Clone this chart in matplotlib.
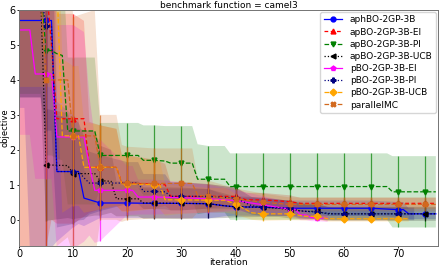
import numpy as np
import matplotlib.pyplot as plt

# aphBO-2GP-3B
aph_x = [0, 1, 2, 5, 6, 7, 10, 11, 12, 15, 20, 25, 30, 35, 38, 40, 45, 50, 55, 60, 65, 70, 71, 72, 75, 77]
aph_mean = [5.7, 5.7, 5.7, 5.7, 5.7, 1.38, 1.38, 1.38, 0.62, 0.48, 0.48, 0.47, 0.47, 0.46, 0.40, 0.37,
            0.36, 0.33, 0.33, 0.33, 0.33, 0.29, 0.29, 0.17, 0.17, 0.17]
aph_std = [2.5, 2.5, 6.5, 6.5, 6.5, 2.0, 1.6, 1.5, 0.8, 0.43, 0.43, 0.42, 0.42, 0.42, 0.3, 0.25, 0.25,
           0.22, 0.22, 0.22, 0.22, 0.22, 0.22, 0.15, 0.15, 0.15]

# apBO-2GP-3B-EI
apei_x = [0, 5, 6, 7, 10, 12, 13, 15, 18, 19, 20, 25, 27, 28, 30, 35, 40, 42, 45, 50, 52, 55, 60, 65, 70, 75, 77]
apei_mean = [6.8, 6.8, 5.0, 2.89, 2.89, 2.89, 1.5, 1.5, 1.5, 1.05, 1.05, 1.02, 1.0, 0.67, 0.67, 0.67, 0.67,
             0.57, 0.57, 0.52, 0.47, 0.47, 0.47, 0.47, 0.47, 0.47, 0.47]
apei_std = [7.6, 7.6, 5.0, 3.0, 3.0, 2.8, 1.3, 1.2, 1.1, 0.8, 0.8, 0.7, 0.6, 0.4, 0.4, 0.35, 0.25,
            0.2, 0.2, 0.18, 0.16, 0.16, 0.16, 0.16, 0.16, 0.16, 0.16]

# apBO-2GP-3B-PI
appi_x = [0, 4, 5, 6, 7, 8, 9, 10, 14, 15, 20, 22, 23, 25, 27, 28, 30, 32, 33, 35, 38, 39, 40, 45, 50,
          55, 60, 65, 68, 69, 70, 75, 77]
appi_mean = [6.6, 6.6, 4.84, 4.84, 4.75, 4.7, 2.54, 2.54, 2.54, 1.84, 1.84, 1.84, 1.70, 1.70, 1.68, 1.62,
             1.62, 1.62, 1.16, 1.16, 1.16, 0.95, 0.95, 0.95, 0.95, 0.95, 0.95, 0.95, 0.95, 0.80, 0.80,
             0.80, 0.80]
appi_std = [3.0, 3.0, 3.0, 3.0, 3.0, 3.0, 2.1, 2.1, 2.1, 0.93, 0.93, 0.93, 1.0, 1.0, 1.0, 1.06, 1.06,
            1.06, 1.0, 0.95, 0.95, 0.95, 0.95, 0.95, 0.95, 0.95, 0.95, 0.95, 0.95, 1.02, 1.02, 1.02, 1.02]

# apBO-2GP-3B-UCB
apucb_x = [0, 4, 5, 9, 10, 14, 15, 17, 18, 20, 22, 23, 25, 30, 35, 38, 40, 45, 48, 50, 53, 55, 57, 60,
           65, 70, 75, 77]
apucb_mean = [6.5, 6.5, 1.57, 1.55, 1.32, 1.32, 1.12, 1.10, 0.60, 0.60, 0.60, 0.48, 0.48, 0.47, 0.46,
              0.40, 0.37, 0.36, 0.33, 0.29, 0.24, 0.24, 0.17, 0.17, 0.17, 0.17, 0.17, 0.17]
apucb_std = [3.0, 3.0, 1.6, 1.5, 1.3, 1.2, 1.0, 0.9, 0.5, 0.5, 0.5, 0.45, 0.45, 0.45, 0.42, 0.35, 0.3,
             0.28, 0.25, 0.25, 0.22, 0.22, 0.2, 0.2, 0.2, 0.2, 0.2, 0.2]

# pBO-2GP-3B-EI
pei_x = [0, 2, 3, 5, 6, 7, 10, 12, 13, 14, 15, 20, 21, 22, 25, 30, 35, 40, 45, 50, 51, 52, 53, 54, 55, 57]
pei_mean = [5.43, 5.43, 4.17, 4.17, 4.17, 2.37, 2.37, 2.37, 1.55, 0.84, 0.84, 0.84, 0.84, 0.65, 0.65,
            0.63, 0.6, 0.55, 0.43, 0.3, 0.3, 0.14, 0.14, 0.06, 0.06, 0.04]
pei_std = [3.0, 3.0, 3.0, 3.0, 3.0, 3.2, 3.2, 3.0, 2.0, 1.5, 1.45, 0.7, 0.7, 0.5, 0.5, 0.45, 0.4, 0.3,
           0.25, 0.2, 0.2, 0.15, 0.15, 0.1, 0.1, 0.1]

# pBO-2GP-3B-PI
ppi_x = [0, 4, 5, 6, 7, 10, 11, 12, 13, 15, 20, 22, 23, 25, 27, 28, 30, 35, 40, 43, 45, 50, 52, 55, 58,
         60, 65, 70, 73]
ppi_mean = [6.5, 6.5, 5.55, 5.55, 1.38, 1.38, 1.38, 1.2, 1.05, 1.05, 1.05, 1.05, 0.81, 0.81, 0.80, 0.67,
            0.67, 0.67, 0.62, 0.40, 0.36, 0.33, 0.25, 0.22, 0.17, 0.17, 0.17, 0.17, 0.17]
ppi_std = [3.0, 3.0, 3.0, 3.0, 1.6, 1.5, 1.4, 1.2, 0.9, 0.8, 0.6, 0.6, 0.5, 0.5, 0.5, 0.4, 0.4, 0.35,
           0.3, 0.25, 0.25, 0.22, 0.2, 0.2, 0.18, 0.18, 0.18, 0.18, 0.18]

# pBO-2GP-3B-UCB
pucb_x = [0, 7, 8, 10, 11, 12, 15, 18, 19, 20, 25, 26, 27, 30, 35, 38, 40, 43, 45, 50, 53, 55, 57, 60,
          65, 70, 72]
pucb_mean = [6.8, 6.8, 2.4, 2.4, 2.4, 1.5, 1.5, 1.5, 1.03, 1.03, 1.0, 1.0, 0.57, 0.57, 0.56, 0.56, 0.45,
             0.2, 0.17, 0.17, 0.1, 0.1, 0.03, 0.03, 0.03, 0.03, 0.03]
pucb_std = [3.0, 3.0, 2.2, 2.0, 2.0, 1.3, 1.2, 1.1, 0.8, 0.8, 0.7, 0.7, 0.45, 0.4, 0.35, 0.35, 0.3,
            0.2, 0.2, 0.18, 0.12, 0.1, 0.08, 0.08, 0.08, 0.08, 0.08]

# parallelMC
pmc_x = [0, 4, 5, 9, 10, 14, 15, 18, 19, 20, 25, 30, 32, 33, 35, 40, 45, 50, 55, 60, 65, 70, 75, 77]
pmc_mean = [6.5, 6.5, 4.0, 4.0, 2.4, 2.4, 1.5, 1.5, 1.04, 1.04, 1.04, 1.04, 1.04, 0.7, 0.67, 0.6, 0.5,
            0.44, 0.44, 0.44, 0.44, 0.44, 0.44, 0.44]
pmc_std = [7.5, 7.5, 5.0, 4.5, 3.4, 3.6, 1.5, 1.5, 1.1, 1.05, 1.0, 1.0, 1.0, 0.5, 0.45, 0.3, 0.25, 0.2,
           0.2, 0.2, 0.2, 0.2, 0.2, 0.2]

series = [
    ("aphBO-2GP-3B", aph_x, aph_mean, aph_std, "blue", "o", "-"),
    ("apBO-2GP-3B-EI", apei_x, apei_mean, apei_std, "red", "^", (0, (3, 2))),
    ("apBO-2GP-3B-PI", appi_x, appi_mean, appi_std, "green", "v", "--"),
    ("apBO-2GP-3B-UCB", apucb_x, apucb_mean, apucb_std, "black", "<", ":"),
    ("pBO-2GP-3B-EI", pei_x, pei_mean, pei_std, "magenta", "p", "-"),
    ("pBO-2GP-3B-PI", ppi_x, ppi_mean, ppi_std, "navy", "P", ":"),
    ("pBO-2GP-3B-UCB", pucb_x, pucb_mean, pucb_std, "orange", "D", "--"),
    ("parallelMC", pmc_x, pmc_mean, pmc_std, "chocolate", "X", "--"),
]

fig = plt.figure(figsize=(4.41, 2.67), dpi=100)
ax = fig.add_axes([19 / 441, 21 / 267, 419 / 441, 236 / 267])

for label, xs, mean, std, color, marker, ls in series:
    xs = np.array(xs, dtype=float)
    mean = np.array(mean)
    std = np.array(std)
    mark = (xs % 5 == 0) & (xs > 0)
    ax.fill_between(xs, mean - std, mean + std, color=color, alpha=0.2, lw=0)
    ax.errorbar(xs[mark], mean[mark], yerr=std[mark], fmt="none", ecolor=color, elinewidth=0.9, alpha=0.7)
    ax.plot(xs, mean, color=color, ls=ls, lw=0.9, marker=marker, ms=3.5,
            markevery=list(mark), label=label)

ax.set_xlim(0, 77.4)
ax.set_ylim(-0.75, 6.0)
ax.set_xticks([0, 10, 20, 30, 40, 50, 60, 70])
ax.set_yticks([0, 1, 2, 3, 4, 5, 6])
ax.tick_params(labelsize=7, length=1.5, width=0.6, pad=1)
for sp in ax.spines.values():
    sp.set_color("0.45")
    sp.set_linewidth(0.7)
ax.set_xlabel("iteration", fontsize=6.5, labelpad=-1)
ax.set_ylabel("objective", fontsize=6)
ax.yaxis.set_label_coords(-0.022, 0.5)
ax.set_title("benchmark function = camel3", fontsize=6.5, pad=1.5)
ax.legend(loc="upper right", fontsize=6.5, handlelength=2.0, labelspacing=0.35,
          borderaxespad=0.2, handletextpad=0.9, borderpad=0.4)

fig.savefig("out.png", dpi=100)
